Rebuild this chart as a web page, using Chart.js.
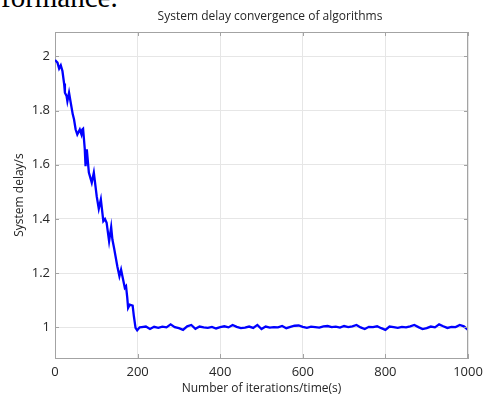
<!DOCTYPE html>
<html>
<head>
<meta charset="utf-8">
<script src="https://cdn.jsdelivr.net/npm/chart.js@4/dist/chart.umd.min.js"></script>
<style>
  html, body { margin: 0; padding: 0; background: #fff; }
  #wrap { position: relative; width: 486px; height: 396px; overflow: hidden; }
  #cut { position: absolute; left: 1px; top: -17px; font: 29px/29px "Liberation Serif", "Times New Roman", serif; color: #000; white-space: nowrap; }
  canvas { position: absolute; left: 0; top: 0; }
</style>
</head>
<body>
<div id="wrap">
  <div id="cut">formance.</div>
  <canvas id="delayChart" width="486" height="396"></canvas>
</div>
<script>
// iterations and system delay (s)
const iterations = [
  0, 6, 10, 14, 18, 22, 24, 28, 30, 34, 38, 43, 46, 50, 54, 60, 64, 66, 68, 72,
  74, 77, 82, 89, 94, 101, 106, 111, 117, 121, 125, 131, 136, 139, 143, 151, 156, 160, 164, 169,
  172, 175, 177, 181, 188, 191, 195, 199,
  205, 210, 220, 230, 240, 250, 260, 270, 280, 290, 300, 310, 320, 330, 340, 350, 360, 370, 380, 390,
  400, 410, 420, 430, 440, 450, 460, 470, 480, 490, 500, 510, 520, 530, 540, 550, 560, 570, 580, 590,
  600, 610, 620, 630, 640, 650, 660, 670, 680, 690, 700, 710, 720, 730, 740, 750, 760, 770, 780, 790,
  800, 810, 820, 830, 840, 850, 860, 870, 880, 890, 900, 910, 920, 930, 940, 950, 960, 970, 980, 990, 1000
];
const delay = [
  1.987, 1.977, 1.955, 1.967, 1.946, 1.900, 1.866, 1.854, 1.835, 1.866, 1.830, 1.786, 1.768, 1.730, 1.712, 1.730, 1.712, 1.730, 1.733, 1.660,
  1.595, 1.657, 1.571, 1.534, 1.571, 1.484, 1.438, 1.472, 1.392, 1.400, 1.386, 1.318, 1.370, 1.324, 1.293, 1.225, 1.189, 1.213, 1.183, 1.146,
  1.152, 1.109, 1.072, 1.084, 1.080, 1.041, 0.998, 0.989,
  1.000, 1.001, 1.003, 0.994, 1.002, 0.998, 1.003, 1.000, 1.011, 1.001, 0.997, 0.991, 1.004, 1.009, 0.995, 1.003, 1.000, 0.998, 1.002, 0.996,
  1.001, 1.004, 1.000, 1.009, 1.002, 0.997, 0.999, 1.003, 0.998, 1.009, 0.994, 1.003, 0.999, 1.001, 1.000, 1.005, 0.997, 1.002, 1.006, 1.007,
  1.002, 0.998, 1.003, 1.001, 0.999, 1.004, 1.005, 1.001, 1.003, 0.999, 1.005, 1.001, 1.004, 1.009, 1.000, 0.994, 1.002, 1.001, 1.004, 0.997,
  0.991, 1.003, 1.001, 0.998, 1.002, 1.000, 1.004, 1.009, 1.001, 0.994, 0.997, 1.003, 1.000, 1.011, 1.004, 0.998, 1.002, 1.001, 1.009, 1.004, 0.991
];
const xTicks = [0, 200, 400, 600, 800, 1000];
const yTicks = [1, 1.2, 1.4, 1.6, 1.8, 2];

const chartTitle = 'System delay convergence of algorithms';
const xTitle = 'Number of iterations/time(s)';
const yTitle = 'System delay/s';

const uiFont = '"Open Sans", "Noto Sans", sans-serif';
const axisGray = '#a3a3a3';

// box on top/right, inward ticks and the title above the axes
const boxPlugin = {
  id: 'box',
  afterDraw(chart) {
    const { ctx, chartArea: a, scales } = chart;
    ctx.save();
    ctx.strokeStyle = axisGray;
    ctx.lineWidth = 1;
    ctx.beginPath();
    ctx.moveTo(a.left, a.top + 0.5);
    ctx.lineTo(a.right, a.top + 0.5);
    ctx.moveTo(a.right - 0.5, a.top);
    ctx.lineTo(a.right - 0.5, a.bottom);
    xTicks.forEach(v => {
      const x = Math.round(scales.x.getPixelForValue(v)) + 0.5;
      ctx.moveTo(x, a.bottom); ctx.lineTo(x, a.bottom - 4);
      ctx.moveTo(x, a.top); ctx.lineTo(x, a.top + 4);
    });
    yTicks.forEach(v => {
      const y = Math.round(scales.y.getPixelForValue(v)) + 0.5;
      ctx.moveTo(a.left, y); ctx.lineTo(a.left + 4, y);
      ctx.moveTo(a.right, y); ctx.lineTo(a.right - 4, y);
    });
    ctx.stroke();
    ctx.fillStyle = '#262626';
    ctx.font = '12px ' + uiFont;
    ctx.textAlign = 'center';
    ctx.textBaseline = 'middle';
    ctx.fillText(chartTitle, 270, 17);
    ctx.restore();
  }
};

new Chart(document.getElementById('delayChart'), {
  type: 'line',
  data: {
    datasets: [{
      data: iterations.map((x, i) => ({ x, y: delay[i] })),
      borderColor: '#0000ff',
      borderWidth: 2.3,
      pointRadius: 0,
      tension: 0,
      fill: false
    }]
  },
  options: {
    responsive: false,
    animation: false,
    layout: { padding: { top: 32, right: 18, bottom: 0, left: 0 } },
    plugins: { legend: { display: false }, tooltip: { enabled: false } },
    scales: {
      x: {
        type: 'linear', min: 0, max: 1000,
        afterBuildTicks: s => { s.ticks = xTicks.map(value => ({ value })); },
        afterFit: s => { s.height = 38; s.paddingLeft = 0; s.paddingRight = 0; },
        grid: { color: '#e6e6e6', drawTicks: false },
        border: { display: true, color: axisGray },
        ticks: { color: '#262626', font: { family: uiFont, size: 13 }, padding: 6, maxRotation: 0, callback: v => String(v) },
        title: { display: true, text: xTitle, color: '#262626', font: { family: uiFont, size: 12 }, padding: { top: 0, bottom: 0 } }
      },
      y: {
        type: 'linear', min: 0.887, max: 2.09,
        afterBuildTicks: s => { s.ticks = yTicks.map(value => ({ value })); },
        afterFit: s => { s.width = 55; },
        grid: { color: '#e6e6e6', drawTicks: false },
        border: { display: true, color: axisGray },
        ticks: { color: '#262626', font: { family: uiFont, size: 13 }, padding: 5, callback: v => String(v) },
        title: { display: true, text: yTitle, color: '#262626', font: { family: uiFont, size: 12 }, padding: { top: 12, bottom: 0 } }
      }
    }
  },
  plugins: [boxPlugin]
});
</script>
</body>
</html>
